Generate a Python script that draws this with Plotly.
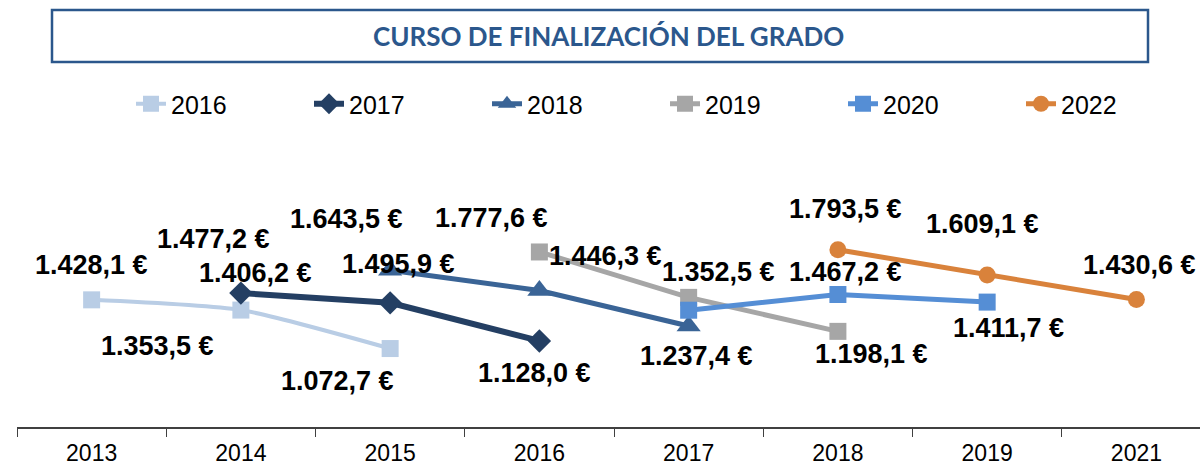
import plotly.graph_objects as go

# categorias del eje x (curso de finalizacion)
cursos = ["2013", "2014", "2015", "2016", "2017", "2018", "2019", "2021"]

# una serie por cohorte
s2016_x = ["2013", "2014", "2015"]
s2016_y = [1428.1, 1353.5, 1072.7]

s2017_x = ["2014", "2015", "2016"]
s2017_y = [1477.2, 1406.2, 1128.0]

s2018_x = ["2015", "2016", "2017"]
s2018_y = [1643.5, 1495.9, 1237.4]

s2019_x = ["2016", "2017", "2018"]
s2019_y = [1777.6, 1446.3, 1198.1]

s2020_x = ["2017", "2018", "2019"]
s2020_y = [1352.5, 1467.2, 1411.7]

s2022_x = ["2018", "2019", "2021"]
s2022_y = [1793.5, 1609.1, 1430.6]

# desplazamiento de cada etiqueta respecto a su punto (px)
offsets = {
    "2016": [(0, -35), (-83, 36), (-53, 32)],
    "2017": [(-27, -54), (-135, -30), (-5, 32)],
    "2018": [(-44, -51), (-141, -27), (8, 30)],
    "2019": [(-48, -34), (-83, -41), (34, 23)],
    "2020": [(30, -38), (8, -22), (21, 26)],
    "2022": [(8, -41), (-5, -51), (3, -35)],
}

series = [
    ("2016", s2016_x, s2016_y, "#B9CDE5", "square", 4, "spline", 17),
    ("2017", s2017_x, s2017_y, "#243F63", "diamond", 6, "linear", 18),
    ("2018", s2018_x, s2018_y, "#3A6496", "triangle-up", 5, "linear", 21),
    ("2019", s2019_x, s2019_y, "#A6A6A6", "square", 5, "linear", 17),
    ("2020", s2020_x, s2020_y, "#558ED5", "square", 5, "linear", 17),
    ("2022", s2022_x, s2022_y, "#D9823B", "circle", 5, "linear", 17),
]

# area de trazado en pixeles
L, T, B = 17, 153, 427
W, H = 1200 - L, B - T


def fmt(v):
    s = f"{v:,.1f}".replace(",", "X").replace(".", ",").replace("X", ".")
    return s + " €"


def py(pix):
    # pixel vertical -> coordenada de papel
    return (B - pix) / H


def px_(pix):
    return (pix - L) / W


fig = go.Figure()
annotations = []
for name, xs, ys, color, sym, lw, shape, ms in series:
    fig.add_trace(go.Scatter(
        x=xs, y=ys, name=name, mode="lines+markers",
        line=dict(color=color, width=lw, shape=shape, smoothing=0.6),
        marker=dict(symbol=sym, size=ms, color=color),
        cliponaxis=False,
    ))
    for (xv, yv), (dx, dy) in zip(zip(xs, ys), offsets[name]):
        annotations.append(dict(
            x=cursos.index(xv), y=yv, xref="x", yref="y", text=fmt(yv),
            showarrow=False, xshift=dx, yshift=-dy,
            font=dict(family="Liberation Sans, Arial", size=27, color="black",
                      weight="bold"),
        ))

# titulo en recuadro
annotations.append(dict(
    x=0.5, y=py(36), xref="paper", yref="paper", yanchor="middle",
    text="CURSO DE FINALIZACIÓN DEL GRADO", showarrow=False,
    font=dict(family="Lato", size=26, color="#2B578C", weight="bold"),
))

fig.update_layout(
    width=1200, height=465,
    margin=dict(l=L, r=0, t=T, b=465 - B, autoexpand=False),
    plot_bgcolor="white", paper_bgcolor="white",
    showlegend=True,
    legend=dict(
        orientation="h", x=px_(131), y=py(104), xanchor="left", yanchor="middle",
        entrywidth=133, entrywidthmode="pixels",
        font=dict(family="Liberation Sans, Arial", size=25, color="black"),
        traceorder="normal",
    ),
    xaxis=dict(
        type="category", categoryorder="array", categoryarray=cursos,
        range=[-0.5, 7.426], showgrid=False, zeroline=False, automargin=False,
        showline=True, linecolor="#404040", linewidth=1.5,
        ticks="outside", tickson="boundaries", ticklen=8, tickcolor="#404040",
        ticklabelstandoff=5,
        tickfont=dict(family="Liberation Sans, Arial", size=23, color="black"),
    ),
    yaxis=dict(range=[500, 2500], visible=False, showgrid=False, zeroline=False),
    annotations=annotations,
)

# el recuadro del titulo
fig.add_shape(type="rect", xref="paper", yref="paper",
              x0=px_(52), x1=px_(1148), y0=py(62), y1=py(10),
              line=dict(color="#2B578C", width=2.5), fillcolor="rgba(0,0,0,0)")

# sin margen del body para que la figura empiece en (0, 0)
fig.write_html("out.html", config={"displayModeBar": False},
               post_script="document.body.style.margin='0';")
